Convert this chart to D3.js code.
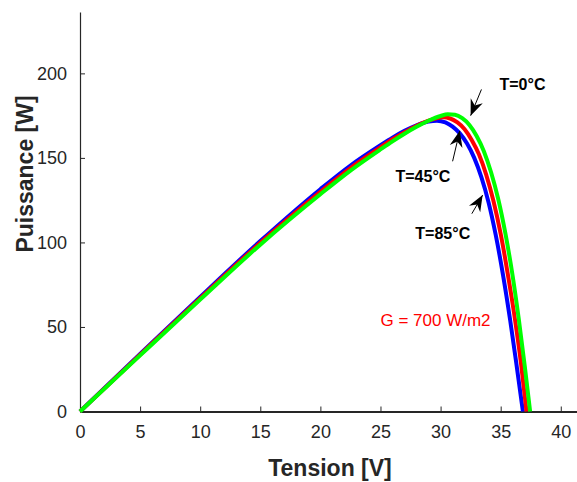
<!DOCTYPE html>
<html>
<head>
<meta charset="utf-8">
<script src="https://cdn.jsdelivr.net/npm/d3@7"></script>
<style>
  body { margin: 0; background: #fff; }
  svg { display: block; font-family: "Liberation Sans", Arial, sans-serif; }
</style>
</head>
<body>
<svg id="chart" width="577" height="482"></svg>
<script>
// P-V curves, [tension V, puissance W]
const t85 = [[0,0],[5,34],[10,67.8],[15,100.8],[20,131.5],[22.5,145.5],[25,157.5],[26,162],[27,166],[28,169.3],[29,171.5],[29.7,172],[30.4,171],[31,168.5],[31.6,164.5],[32.2,158.5],[32.8,150],[33.4,138.5],[34,123.5],[34.6,104],[35.2,80.5],[35.8,53.5],[36.3,28.5],[36.85,0]];
const t45 = [[0,0],[5,33.6],[10,67],[15,99.8],[20,130],[22.5,144],[25,156.3],[26,161],[27,165.2],[28,169],[29,172],[29.6,173.3],[30.2,174],[30.8,173.3],[31.4,171],[32,167],[32.6,160.5],[33.2,152],[33.8,140],[34.4,124.5],[35,105],[35.6,81],[36.2,54],[36.7,28],[37.15,0]];
const t0 = [[0,0],[5,33.2],[10,66.2],[15,98.7],[20,128.5],[22.5,142.5],[25,155],[26,159.8],[27,164.3],[28,168.4],[29,172],[30,174.8],[30.6,175.8],[31.2,175.5],[31.8,173.5],[32.4,169.5],[33,163],[33.6,154],[34.2,141.5],[34.8,125.5],[35.4,105],[36,80],[36.5,55],[37,27],[37.45,0]];

const xTicks = [0,5,10,15,20,25,30,35,40];
const yTicks = [0,50,100,150,200];

const series = [
  {name:"85", data:t85, color:"#0000ff"},
  {name:"45", data:t45, color:"#ff0000"},
  {name:"0",  data:t0,  color:"#00ff00"}
];

// annotations: text + arrow (tail -> head) in data units
const notes = [
  {text:"T=0°C",  tx:34.9, ty:190, tail:[33.4,190.5], head:[32.5,175]},
  {text:"T=45°C", tx:26.25, ty:136, tail:[31.0,148], head:[31.6,166]},
  {text:"T=85°C", tx:27.9, ty:102, tail:[32.6,117], head:[33.5,128]}
];

const svg = d3.select("#chart");
const x = d3.scaleLinear().domain([0,41.4]).range([80,577.6]);
const y = d3.scaleLinear().domain([0,236.3]).range([411.5,12]);

const ink = "#262626";

// x axis
const gx = svg.append("g")
  .attr("transform","translate(0,"+y(0)+")")
  .call(d3.axisBottom(x).tickValues(xTicks).tickSizeInner(-5).tickSizeOuter(0).tickPadding(14));
gx.select(".domain").attr("stroke",ink).attr("stroke-width",2);
gx.selectAll(".tick line").attr("stroke",ink);
gx.selectAll(".tick text").attr("fill",ink).style("font-size","18px");

// y axis
const gy = svg.append("g")
  .attr("transform","translate("+x(0)+",0)")
  .call(d3.axisLeft(y).tickValues(yTicks).tickSizeInner(-5).tickSizeOuter(0).tickPadding(13));
gy.select(".domain").attr("stroke",ink).attr("stroke-width",1.2);
gy.selectAll(".tick line").attr("stroke",ink);
gy.selectAll(".tick text").attr("fill",ink).style("font-size","18px");

// curves
const line = d3.line()
  .x(function(d){ return x(d[0]); })
  .y(function(d){ return y(d[1]); })
  .curve(d3.curveMonotoneX);

svg.append("g")
  .selectAll("path")
  .data(series)
  .enter()
  .append("path")
  .attr("d", function(d){ return line(d.data); })
  .attr("fill","none")
  .attr("stroke", function(d){ return d.color; })
  .attr("stroke-width",4)
  .attr("stroke-linejoin","round");

// axis labels
svg.append("text")
  .attr("x",330).attr("y",476)
  .attr("text-anchor","middle")
  .attr("fill",ink)
  .style("font-size","23px").style("font-weight","bold")
  .text("Tension [V]");

svg.append("text")
  .attr("transform","translate(33,174) rotate(-90)")
  .attr("text-anchor","middle")
  .attr("fill",ink)
  .style("font-size","23px").style("font-weight","bold")
  .text("Puissance [W]");

// G label
svg.append("text")
  .attr("x",x(25)).attr("y",y(50.5))
  .attr("fill","#ff0000")
  .style("font-size","17px")
  .text("G = 700 W/m2");

// arrows
function arrowHead(tip, tail){
  let dx=tip[0]-tail[0], dy=tip[1]-tail[1];
  let L=Math.sqrt(dx*dx+dy*dy); dx/=L; dy/=L;
  let len=16, w=6.5, back=11;
  let bx=tip[0]-dx*len, by=tip[1]-dy*len;
  let nx=tip[0]-dx*back, ny=tip[1]-dy*back;
  return "M"+tip[0]+","+tip[1]+
    "L"+(bx-dy*w)+","+(by+dx*w)+
    "L"+nx+","+ny+
    "L"+(bx+dy*w)+","+(by-dx*w)+"Z";
}

const ann = svg.append("g").selectAll("g").data(notes).enter().append("g");
ann.append("line")
  .attr("x1", function(d){ return x(d.tail[0]); })
  .attr("y1", function(d){ return y(d.tail[1]); })
  .attr("x2", function(d){ return x(d.head[0]); })
  .attr("y2", function(d){ return y(d.head[1]); })
  .attr("stroke","#000").attr("stroke-width",1);
ann.append("path")
  .attr("d", function(d){ return arrowHead([x(d.head[0]),y(d.head[1])],[x(d.tail[0]),y(d.tail[1])]); })
  .attr("fill","#000");
ann.append("text")
  .attr("x", function(d){ return x(d.tx); })
  .attr("y", function(d){ return y(d.ty); })
  .attr("fill","#000")
  .style("font-size","16px").style("font-weight","bold")
  .text(function(d){ return d.text; });
</script>
</body>
</html>
